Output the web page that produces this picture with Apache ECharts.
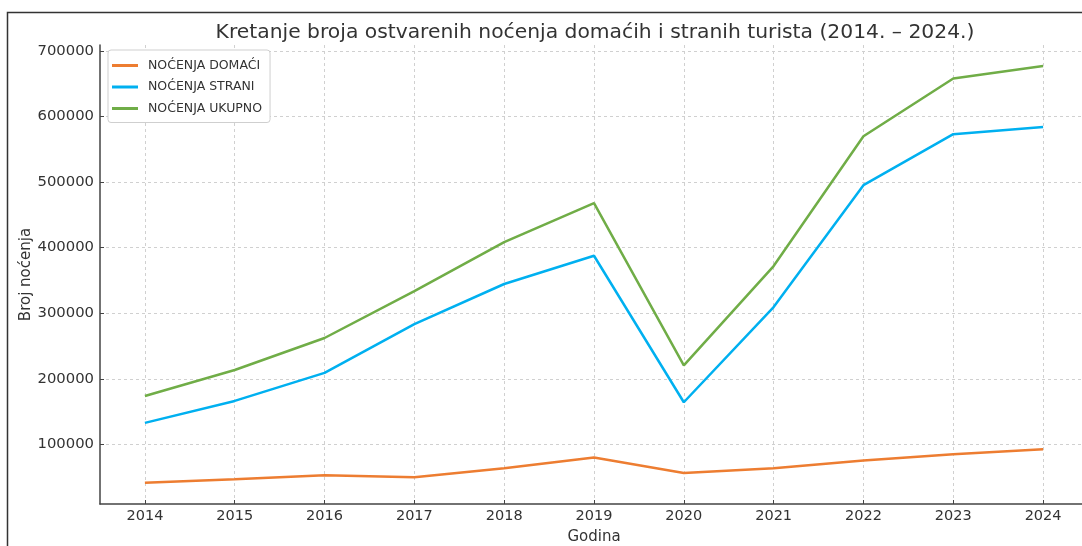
<!DOCTYPE html>
<html>
<head>
<meta charset="utf-8">
<script src="https://cdn.jsdelivr.net/npm/echarts@6/dist/echarts.min.js"></script>
<style>
html,body{margin:0;padding:0;background:#fff;}
#c{width:1082px;height:546px;}
</style>
</head>
<body>
<div id="c"></div>
<script>
const years = [2014, 2015, 2016, 2017, 2018, 2019, 2020, 2021, 2022, 2023, 2024];
const domaci = [41400, 47000, 53100, 50100, 63800, 80000, 56600, 63800, 75400, 85100, 92700];
const strani = [132800, 166300, 209000, 283500, 344500, 387600, 164300, 309400, 495200, 572900, 584000];
const ukupno = [173900, 213500, 262200, 333800, 408400, 467800, 220600, 371900, 569800, 657700, 676900];
const yTicks = [100000, 200000, 300000, 400000, 500000, 600000, 700000];
const seriesNames = ['NOĆENJA DOMAĆI', 'NOĆENJA STRANI', 'NOĆENJA UKUPNO'];
const titleText = 'Kretanje broja ostvarenih noćenja domaćih i stranih turista (2014. – 2024.)';

const font = 'DejaVu Sans';
const pair = arr => years.map((y, i) => [y, arr[i]]);
const chart = echarts.init(document.getElementById('c'), null, {renderer: 'canvas'});
const gridLine = {show: true, lineStyle: {color: '#d0d0d0', type: [3, 3], width: 1}};
chart.setOption({
  backgroundColor: '#fff',
  animation: false,
  title: {
    text: titleText,
    left: 590, top: 18, textAlign: 'center',
    textStyle: {fontFamily: font, fontSize: 20.3, fontWeight: 'normal', color: '#333'}
  },
  graphic: [{
    type: 'rect', silent: true, z: 100,
    shape: {x: 7.5, y: 12.5, width: 1200, height: 700},
    style: {fill: null, stroke: '#333', lineWidth: 1.5}
  }],
  legend: {
    orient: 'vertical', left: 108, top: 50,
    padding: [9, 8, 7.5, 4], itemGap: 8.5,
    itemWidth: 26, itemHeight: 3, icon: 'rect',
    backgroundColor: '#fff', borderColor: '#cfcfcf', borderWidth: 1, borderRadius: 3,
    textStyle: {fontFamily: font, fontSize: 12.5, color: '#333', padding: [0, 0, 0, 5]},
    data: seriesNames
  },
  grid: {left: 100, top: 45, width: 988, height: 459, containLabel: false, outerBoundsMode: 'none'},
  xAxis: {
    type: 'value', min: 2013.5, max: 2024.5,
    name: 'Godina', nameLocation: 'middle', nameGap: 26, nameMoveOverlap: false,
    nameTextStyle: {fontFamily: font, fontSize: 15, color: '#333'},
    axisLine: {show: true, lineStyle: {color: '#444', width: 1.5}},
    axisTick: {show: true, inside: true, length: 4, customValues: years, lineStyle: {color: '#444'}},
    axisLabel: {customValues: years, fontFamily: font, fontSize: 14.5, color: '#333', margin: 5, formatter: v => String(v)},
    splitLine: gridLine
  },
  yAxis: {
    type: 'value', min: 9200, max: 708800,
    name: 'Broj noćenja', nameLocation: 'middle', nameGap: 66, nameRotate: 90, nameMoveOverlap: false,
    nameTextStyle: {fontFamily: font, fontSize: 15, color: '#333'},
    axisLine: {show: true, lineStyle: {color: '#444', width: 1.5}},
    axisTick: {show: true, inside: true, length: 4, customValues: yTicks, lineStyle: {color: '#444'}},
    axisLabel: {customValues: yTicks, fontFamily: font, fontSize: 14.8, color: '#333', margin: 6, formatter: v => String(v)},
    splitLine: gridLine
  },
  series: [
    {name: seriesNames[0], type: 'line', data: pair(domaci), showSymbol: false, color: '#ED7D31', lineStyle: {width: 2.5}},
    {name: seriesNames[1], type: 'line', data: pair(strani), showSymbol: false, color: '#00B0F0', lineStyle: {width: 2.5}},
    {name: seriesNames[2], type: 'line', data: pair(ukupno), showSymbol: false, color: '#70AD47', lineStyle: {width: 2.5}}
  ]
});
</script>
</body>
</html>
